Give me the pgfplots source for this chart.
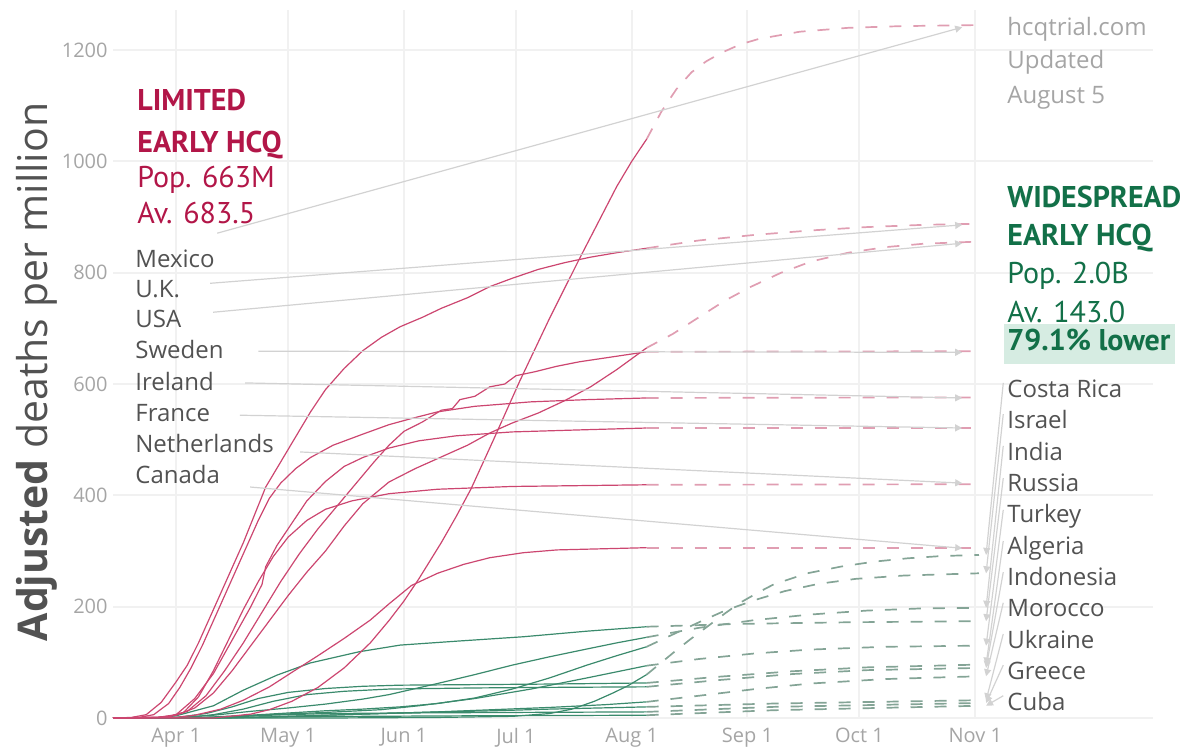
\documentclass[border=0pt]{standalone}
\usepackage{fontspec}
\setmainfont{Open Sans}
\newfontfamily\headfont{PT Sans}
\usepackage{pgfplots}
\pgfplotsset{compat=1.18}
\usetikzlibrary{arrows.meta}
\definecolor{redline}{RGB}{204,70,112}
\definecolor{reddash}{RGB}{224,158,178}
\definecolor{greenline}{RGB}{58,138,108}
\definecolor{greendash}{RGB}{132,164,150}
\definecolor{conn}{RGB}{210,210,210}
\definecolor{redhead}{RGB}{178,22,72}
\definecolor{greenhead}{RGB}{18,112,72}
\definecolor{greenbox}{RGB}{214,236,226}
\definecolor{labgrey}{RGB}{82,82,82}
\definecolor{tickgrey}{RGB}{165,165,165}
\definecolor{gridc}{RGB}{241,241,241}
\begin{document}
\begin{tikzpicture}
\useasboundingbox (0,0) rectangle (594.5pt,-375pt);
\begin{axis}[
  at={(56.5pt,-359pt)}, anchor=south west,
  scale only axis, width=520pt, height=354pt,
  xmin=-16.9, xmax=261.6, ymin=0, ymax=1272,
  axis line style={draw=none}, major tick length=0pt,
  xtick={0,30,61,91,122,153,183,214},
  xticklabels={Apr 1,May 1,Jun 1,Jul 1,Aug 1,Sep 1,Oct 1,Nov 1},
  ytick={0,200,...,1200},
  grid=major, grid style={gridc, line width=1pt},
  /pgf/number format/assume math mode=true,
  /pgf/number format/1000 sep={},
  ticklabel style={font=\fontsize{10}{12}\selectfont, text=tickgrey},
  yticklabel style={anchor=east, inner sep=0pt, xshift=-2.5pt},
  xticklabel style={anchor=north, inner sep=0pt, yshift=-5pt},
  clip=false,
  rdash/.style={reddash, line width=0.85pt, dash pattern=on 6pt off 6pt},
  gdash/.style={greendash, line width=0.85pt, dash pattern=on 6pt off 6pt},
  rsol/.style={redline, line width=0.6pt},
  gsol/.style={greenline, line width=0.6pt},
  cn/.style={conn, line width=0.6pt, -{Triangle[length=3.5pt,width=3.5pt]}},
]
% red projections
\addplot[rdash] coordinates {(126,1040)(130,1090)(134,1130)(138,1160)(142,1180)(146,1195)(151,1210)(156,1220)(167,1233)(180,1240)(194,1243)(215,1245)};
\addplot[rdash] coordinates {(126,844)(140,858)(155,868)(170,876)(185,882)(200,886)(215,888)};
\addplot[rdash] coordinates {(126,665)(133,690)(140,720)(147,750)(154,775)(162,800)(170,820)(180,836)(190,846)(200,852)(215,856)};
\addplot[rdash] coordinates {(126,658)(215,659)};
\addplot[rdash] coordinates {(126,575)(215,576)};
\addplot[rdash] coordinates {(126,521)(215,521)};
\addplot[rdash] coordinates {(126,419)(215,420)};
\addplot[rdash] coordinates {(126,306)(215,306)};
% green projections
\addplot[gdash] coordinates {(126,78)(130,100)(134,122)(138,143)(142,163)(147,188)(151,207)(156,226)(160,240)(169,260)(178,272)(187,281)(196,287)(205,291)(215,293)};
\addplot[gdash] coordinates {(126,128)(133,150)(140,172)(147,193)(155,212)(163,228)(172,241)(182,250)(195,256)(215,260)};
\addplot[gdash] coordinates {(126,145)(140,162)(155,176)(170,186)(185,193)(200,197)(215,198)};
\addplot[gdash] coordinates {(126,164)(150,169)(180,172)(215,174)};
\addplot[gdash] coordinates {(126,94)(140,106)(155,116)(170,123)(190,128)(215,130)};
\addplot[gdash] coordinates {(126,63)(145,74)(165,84)(185,91)(215,96)};
\addplot[gdash] coordinates {(126,56)(145,68)(165,79)(185,86)(215,90)};
\addplot[gdash] coordinates {(126,29)(140,40)(155,52)(170,62)(190,70)(215,75)};
\addplot[gdash] coordinates {(126,20)(160,26)(215,32)};
\addplot[gdash] coordinates {(126,11)(160,20)(215,27)};
\addplot[gdash] coordinates {(126,5)(160,14)(215,22)};
% green solid
\addplot[gsol] coordinates {(-16.9,0)(40,0)(70,1)(90,3)(100,8)(106,16)(112,30)(117,45)(121,58)(126,78)};
\addplot[gsol] coordinates {(-16.9,0)(0,0)(10,2)(20,5)(30,9)(40,13)(50,16)(60,20)(70,26)(80,36)(90,52)(100,72)(110,95)(118,112)(126,128)};
\addplot[gsol] coordinates {(-16.9,0)(0,1)(10,5)(20,12)(30,18)(40,25)(50,34)(57,42)(70,62)(80,78)(90,95)(100,110)(110,124)(118,135)(126,145)};
\addplot[gsol] coordinates {(-16.9,0)(-5,0)(0,4)(10,22)(18,50)(27,77)(36,99)(49,119)(60,131)(75,138)(93,146)(110,156)(126,164)};
\addplot[gsol] coordinates {(-16.9,0)(5,0)(15,3)(25,6)(40,10)(55,15)(65,22)(80,35)(95,52)(110,72)(126,94)};
\addplot[gsol] coordinates {(-16.9,0)(0,1)(8,8)(15,20)(22,35)(30,46)(40,53)(50,57)(60,59)(80,60)(100,61)(126,63)};
\addplot[gsol] coordinates {(-16.9,0)(3,1)(10,6)(18,16)(26,30)(35,42)(45,48)(57,52)(80,54)(100,55)(126,56)};
\addplot[gsol] coordinates {(-16.9,0)(10,0)(25,2)(40,5)(55,8)(70,11)(85,15)(100,19)(115,24)(126,29)};
\addplot[gsol] coordinates {(-16.9,0)(10,0)(25,2)(40,5)(55,8)(70,11)(85,13)(100,16)(126,20)};
\addplot[gsol] coordinates {(-16.9,0)(5,0)(15,2)(25,5)(40,8)(60,9)(90,10)(126,11)};
\addplot[gsol] coordinates {(-16.9,0)(10,0)(30,2)(50,3)(80,4)(126,5)};
% red solid
\addplot[rsol] coordinates {(-16.9,0)(-12,1)(-8,6)(-4,28)(0,65)(3,95)(6,135)(9,180)(12,225)(15,270)(18,315)(21,365)(24,415)(28,460)(32,505)(36,550)(40,590)(45,628)(50,660)(55,684)(60,703)(66,720)(71,736)(78,755)(84,775)(90,790)(97,806)(104,818)(111,828)(118,836)(126,844)};
\addplot[rsol] coordinates {(-16.9,0)(-10,1)(-6,6)(-2,26)(1,55)(4,90)(7,130)(10,175)(13,220)(16,265)(19,310)(22,355)(25,395)(28,422)(32,448)(36,468)(42,490)(50,510)(57,527)(63,538)(70,550)(80,560)(95,568)(110,572)(126,575)};
\addplot[rsol] coordinates {(-16.9,0)(-5,1)(0,6)(5,35)(10,80)(15,140)(20,200)(23,240)(24,272)(27,310)(31,350)(35,390)(40,425)(45,452)(50,468)(57,485)(65,498)(75,507)(90,514)(110,518)(126,521)};
\addplot[rsol] coordinates {(-16.9,0)(-2,2)(3,12)(8,40)(13,85)(18,135)(23,190)(28,245)(33,295)(38,340)(43,380)(48,420)(53,460)(57,490)(61,515)(66,532)(71,553)(74,556)(76,572)(80,578)(84,595)(88,600)(91,615)(96,622)(102,632)(108,640)(116,648)(126,658)};
\addplot[rsol] coordinates {(-16.9,0)(-3,1)(2,10)(6,38)(10,85)(14,140)(18,195)(22,245)(26,290)(30,325)(35,355)(40,375)(47,390)(57,403)(70,411)(90,416)(126,419)};
\addplot[rsol] coordinates {(-16.9,0)(-5,1)(0,5)(5,18)(10,45)(15,85)(20,130)(25,175)(30,220)(35,262)(40,300)(45,345)(50,385)(57,424)(64,448)(71,469)(78,490)(84,512)(90,530)(97,548)(104,570)(111,595)(118,626)(126,665)};
\addplot[rsol] coordinates {(-16.9,0)(0,1)(5,5)(12,16)(18,32)(25,56)(31,82)(38,112)(45,143)(52,176)(57,205)(63,238)(70,260)(77,276)(84,288)(93,297)(102,302)(126,306)};
\addplot[rsol] coordinates {(-16.9,0)(10,0)(20,7)(25,15)(31,30)(38,55)(45,90)(52,135)(57,175)(61,210)(65,250)(71,315)(75,362)(79,412)(85,500)(92,605)(100,718)(108,825)(113,890)(118,955)(122,1000)(126,1040)};
% connectors
\addplot[cn] coordinates {(11.0,871)(210.5,1241)};
\addplot[cn] coordinates {(9.1,781)(210.5,886)};
\addplot[cn] coordinates {(9.9,729)(210.5,853)};
\addplot[cn] coordinates {(22.0,659)(210.5,657)};
\addplot[cn] coordinates {(18.5,602)(210.5,575)};
\addplot[cn] coordinates {(17.1,544)(210.5,521)};
\addplot[cn] coordinates {(33.2,478)(210.5,422)};
\addplot[cn] coordinates {(19.8,415)(210.5,305)};
\addplot[cn] coordinates {(221.5,602)(216.9,293)};
\addplot[cn] coordinates {(221.5,546)(216.9,260)};
\addplot[cn] coordinates {(221.5,489)(216.9,198)};
\addplot[cn] coordinates {(221.5,431)(216.9,174)};
\addplot[cn] coordinates {(221.5,374)(216.9,130)};
\addplot[cn] coordinates {(221.5,318)(216.9,96)};
\addplot[cn] coordinates {(221.5,262)(216.9,90)};
\addplot[cn] coordinates {(221.5,207)(216.9,75)};
\addplot[cn] coordinates {(221.5,151)(216.9,32)};
\addplot[cn] coordinates {(221.5,95)(216.9,27)};
\addplot[cn] coordinates {(221.5,40)(216.9,22)};
\end{axis}
\begin{scope}[x=0.5pt,y=-0.5pt]
\node[rotate=90, anchor=base, inner sep=0pt, font=\fontsize{20.5}{24}\selectfont, text=labgrey] at (47,372) {\textbf{Adjusted} deaths per million};
\tikzset{hb/.style={anchor=base west, inner sep=0pt, font=\headfont\bfseries\fontsize{15}{18}\selectfont},
         hr/.style={anchor=base west, inner sep=0pt, font=\headfont\fontsize{15}{18}\selectfont},
         lab/.style={anchor=base west, inner sep=0pt, font=\fontsize{12}{14}\selectfont, text=labgrey}}
\node[hb, text=redhead] at (137,110) {LIMITED};
\node[hb, text=redhead] at (137,152) {EARLY HCQ};
\node[hr, text=redhead] at (137,187) {Pop. 663M};
\node[hr, text=redhead] at (137,223) {Av. 683.5};
\node[lab] at (135,267) {Mexico};
\node[lab] at (135,297) {U.K.};
\node[lab] at (135,327) {USA};
\node[lab] at (135,358) {Sweden};
\node[lab] at (135,390) {Ireland};
\node[lab] at (135,421) {France};
\node[lab] at (135,452) {Netherlands};
\node[lab] at (135,483) {Canada};
\node[lab, text=tickgrey] at (1007,35) {hcqtrial.com};
\node[lab, text=tickgrey] at (1007,68) {Updated};
\node[lab, text=tickgrey] at (1007,103) {August 5};
\node[hb, text=greenhead] at (1007,207) {WIDESPREAD};
\node[hb, text=greenhead] at (1007,245) {EARLY HCQ};
\node[hr, text=greenhead] at (1007,283) {Pop. 2.0B};
\node[hr, text=greenhead] at (1007,322) {Av. 143.0};
\fill[greenbox] (1004,324) rectangle (1175,364);
\node[hb, text=greenhead] at (1007,350) {79.1\% lower};
\node[lab] at (1007,397) {Costa Rica};
\node[lab] at (1007,428) {Israel};
\node[lab] at (1007,460) {India};
\node[lab] at (1007,491) {Russia};
\node[lab] at (1007,522) {Turkey};
\node[lab] at (1007,554) {Algeria};
\node[lab] at (1007,585) {Indonesia};
\node[lab] at (1007,616) {Morocco};
\node[lab] at (1007,648) {Ukraine};
\node[lab] at (1007,679) {Greece};
\node[lab] at (1007,710) {Cuba};
\end{scope}
\end{tikzpicture}
\end{document}
